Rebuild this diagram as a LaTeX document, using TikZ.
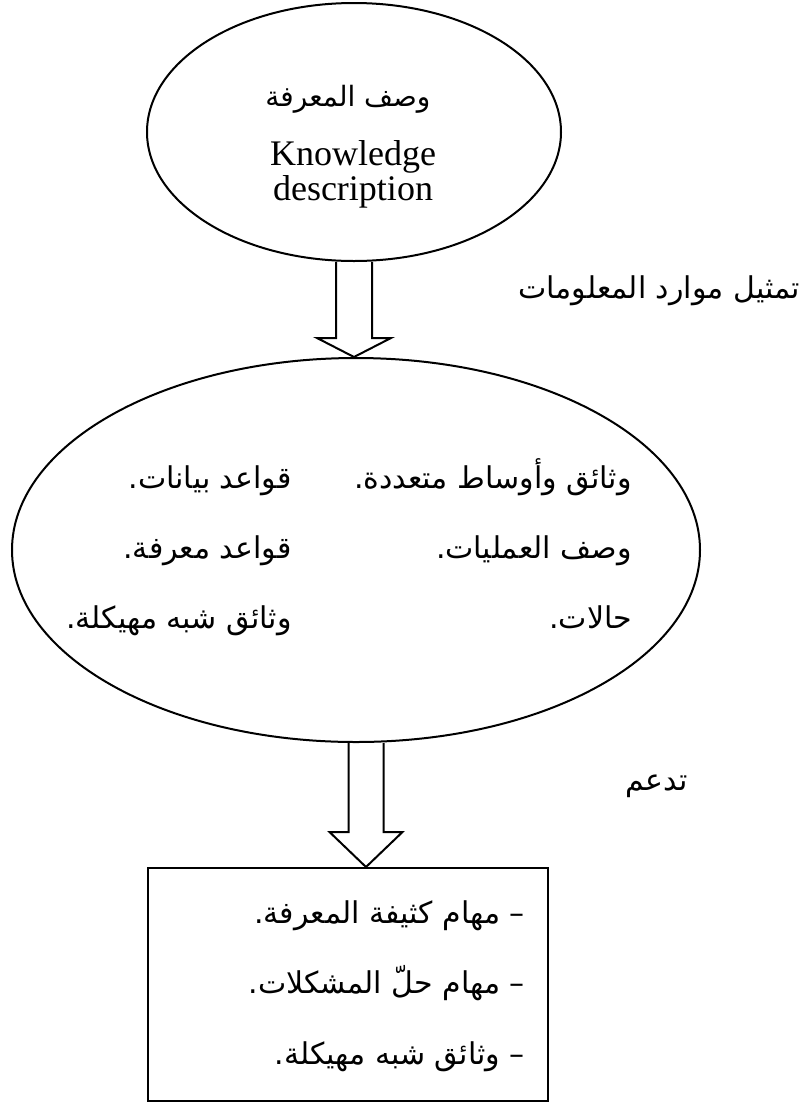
\documentclass[tikz,border=0pt]{standalone}
\usepackage{fontspec}
\setmainfont{Liberation Serif}
\newfontfamily\arabicfont[Script=Arabic]{DejaVu Sans}
\TeXXeTstate=1
\usetikzlibrary{shapes.geometric,calc}
\newcommand\artxt[1]{{\arabicfont\beginR #1\endR}}
\begin{document}
\begin{tikzpicture}[x=1pt,y=-1pt]
\tikzset{
  shapeline/.style={draw=black, line width=2pt, inner sep=0pt},
  artext/.style={font=\arabicfont\fontsize{30}{34}\selectfont, inner sep=0pt},
  artitle/.style={font=\arabicfont\fontsize{28}{32}\selectfont, inner sep=0pt},
  entext/.style={font=\fontsize{36}{36}\selectfont, inner sep=0pt},
  blockarrow/.style={draw=black, line width=2pt, line join=miter},
}
\useasboundingbox[fill=white] (0,0) rectangle (803,1104);

% shapes
\node[ellipse, shapeline, minimum width=414pt, minimum height=258pt] (e1) at (354,132) {};
\node[ellipse, shapeline, minimum width=688pt, minimum height=384pt] (e2) at (356,550) {};
\node[rectangle, shapeline, minimum width=400pt, minimum height=233pt] (box) at (348,984.5) {};

% top ellipse text
\node[artitle, anchor=base] (t1a) at (348,106) {\artxt{وصف المعرفة}};
\node[entext, anchor=base] (t1b) at (353,165) {Knowledge};
\node[entext, anchor=base] (t1c) at (353,200) {description};

% labels
\node[artext, anchor=base east] (lab1) at (800,298) {\artxt{تمثيل موارد المعلومات}};
\node[artext, anchor=base east] (lab2) at (688,790) {\artxt{تدعم}};

% middle ellipse text
\node[artext, anchor=base east] (r1) at (632,488) {\artxt{وثائق وأوساط متعددة.}};
\node[artext, anchor=base east] (r2) at (632,558) {\artxt{وصف العمليات.}};
\node[artext, anchor=base east] (r3) at (632,628) {\artxt{حالات.}};
\node[artext, anchor=base east] (l1) at (292,488) {\artxt{قواعد بيانات.}};
\node[artext, anchor=base east] (l2) at (292,558) {\artxt{قواعد معرفة.}};
\node[artext, anchor=base east] (l3) at (292,628) {\artxt{وثائق شبه مهيكلة.}};

% box text
\node[artext, anchor=base east] (b1) at (525,923) {\artxt{– مهام كثيفة المعرفة.}};
\node[artext, anchor=base east] (b2) at (525,993) {\artxt{– مهام حلّ المشكلات.}};
\node[artext, anchor=base east] (b3) at (525,1064) {\artxt{– وثائق شبه مهيكلة.}};

% block arrow 1
\coordinate (a1top) at (e1.south);
\coordinate (a1tip) at (a1top |- e2.north);
\draw[blockarrow] ($(a1top)+(-18,0)$) -- ($(a1tip)+(-18,-19)$) -- ($(a1tip)+(-37,-19)$)
  -- (a1tip) -- ($(a1tip)+(37,-19)$) -- ($(a1tip)+(18,-19)$) -- ($(a1top)+(18,0)$);

% block arrow 2
\coordinate (a2top) at ($(e2.south)+(10,0)$);
\coordinate (a2tip) at (a2top |- box.north);
\draw[blockarrow] ($(a2top)+(-17.5,0)$) -- ($(a2tip)+(-17.5,-35)$) -- ($(a2tip)+(-36.5,-35)$)
  -- (a2tip) -- ($(a2tip)+(36.5,-35)$) -- ($(a2tip)+(17.5,-35)$) -- ($(a2top)+(17.5,0)$);
\end{tikzpicture}
\end{document}
